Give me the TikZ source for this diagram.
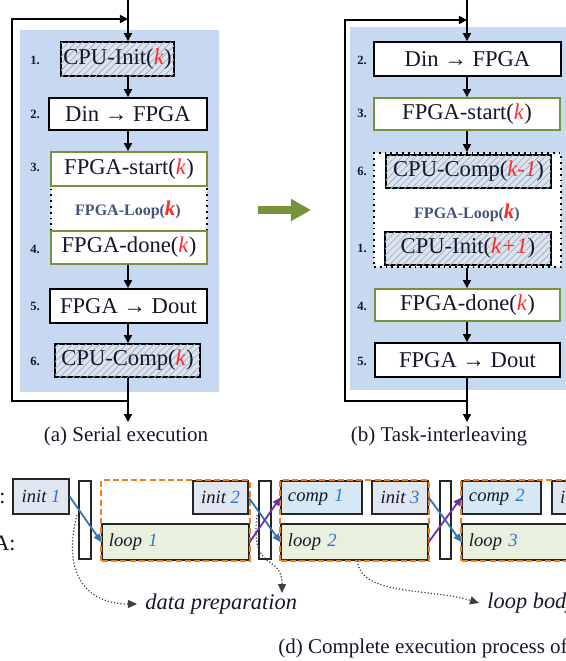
\documentclass[tikz,border=0pt]{standalone}
\usepackage{fontspec}
\setmainfont{Liberation Serif}
\usepackage{tikz}
\usetikzlibrary{
	arrows.meta, positioning, calc, patterns.meta
}
\definecolor{panelblue}  {RGB}{198, 217, 241}
\definecolor{stepgreen}  {RGB}{118, 146,  60}
\definecolor{hatchfill}  {RGB}{220, 228, 238}
\definecolor{hatchline}  {RGB}{160, 178, 204}
\definecolor{kred}       {RGB}{250,  45,  45}
\definecolor{loopgray}   {RGB}{ 68,  84, 120}
\definecolor{inkdark}    {RGB}{ 22,  22,  42}
\definecolor{initfill}   {RGB}{224, 231, 241}
\definecolor{compfill}   {RGB}{214, 232, 245}
\definecolor{loopfill}   {RGB}{234, 240, 222}
\definecolor{grporange}  {RGB}{240, 128,  30}
\definecolor{xferblue}   {RGB}{ 46, 117, 190}
\definecolor{xferpurple} {RGB}{112,  48, 170}
\definecolor{numblue}    {RGB}{ 46, 117, 205}

\newcommand{\kk}[1]{\textcolor{kred}{\textit{#1}}}
\newcommand{\kbig}[1]{\textcolor{kred}{\fontsize{10.5}{12}\selectfont\textbf{\textit{#1}}}}
\newcommand{\nb}[1]{\textcolor{numblue}{#1}}
\newcommand{\toarr}{~\textbf{→}~}

\tikzset{
	stepbox/.style={draw=black, line width=0.9pt, fill=white, inner sep=0pt,
		text=inkdark, font=\fontsize{11.3}{13}\selectfont},
	greenbox/.style={stepbox, draw=stepgreen},
	hatchbox/.style={stepbox, fill=hatchfill,
		postaction={pattern={Lines[angle=45,distance=2.4pt,line width=0.4pt]}, pattern color=hatchline}},
	loopframe/.style={draw=black, dotted, line width=0.9pt, fill=white, inner sep=0pt},
	looptxt/.style={text=loopgray, font=\fontsize{8}{9}\bfseries\selectfont},
	num/.style={text=inkdark, font=\fontsize{6.3}{7}\bfseries\selectfont},
	flow/.style={-{Triangle[length=4pt,width=4pt]}, line width=0.8pt},
	caption/.style={text=inkdark, inner sep=0pt, font=\fontsize{10.5}{12}\selectfont},
	taskbox/.style={draw=black!85, line width=0.7pt, inner sep=0pt,
		text=inkdark, font=\fontsize{9.3}{11}\itshape\selectfont},
	taskleft/.style={taskbox, align=left, inner xsep=3.5pt},
	barbox/.style={draw=black!85, line width=0.7pt, fill=white, inner sep=0pt,
		minimum width=6pt, minimum height=39pt},
	grp/.style={draw=grporange, line width=1.1pt, dash pattern=on 3pt off 1.6pt},
	xfer/.style={-{Triangle[length=4pt,width=3.6pt]}, line width=0.9pt},
	hint/.style={densely dotted, line width=0.6pt, black!75, -{Triangle[length=4.5pt,width=4pt]}},
	note/.style={text=inkdark, inner sep=4pt, font=\fontsize{11.2}{13}\itshape\selectfont}
}

\begin{document}
\begin{tikzpicture}[x=0.5pt,y=-0.5pt]
	\useasboundingbox (0,0) rectangle (566,661);

	% (a) serial execution
	\fill[panelblue] (20,30) rectangle (219,392);
	\node[loopframe, minimum width=78pt, minimum height=22.5pt] (loopA) at (129,208.5) {};
	\node[looptxt] (loopAtxt) at (128,210) {FPGA-Loop(\kbig{k})};
	\node[hatchbox, minimum width=56.5pt, minimum height=17pt] (initA) at (117.5,59) {CPU-Init(\kk{k})};
	\node[stepbox, minimum width=79pt, minimum height=16pt] (dinA) at (128,114) {Din\toarr FPGA};
	\node[greenbox, minimum width=78pt, minimum height=17pt] (startA) at (129,169) {FPGA-start(\kk{k})};
	\node[greenbox, minimum width=78pt, minimum height=16.5pt] (doneA) at (129,247.5) {FPGA-done(\kk{k})};
	\node[stepbox, minimum width=78.5pt, minimum height=17pt] (doutA) at (128.5,306) {FPGA\toarr Dout};
	\node[hatchbox, minimum width=72.5pt, minimum height=16.5pt] (compA) at (127.5,360.5) {CPU-Comp(\kk{k})};
	\node[num] (n1A) at (35,60) {1.};
	\node[num] (n2A) at (35,114) {2.};
	\node[num] (n3A) at (35,167) {3.};
	\node[num] (n4A) at (35,249) {4.};
	\node[num] (n5A) at (35,306) {5.};
	\node[num] (n6A) at (35,361) {6.};
	\coordinate (topA) at (128,0);
	\coordinate (joinA) at (128,19);
	\coordinate (backA) at (128,401);
	\coordinate (outA) at (128,422);
	\draw[flow] (topA) -- (initA.north -| topA);
	\draw[flow] (initA.south -| topA) -- (dinA.north -| topA);
	\draw[flow] (dinA.south -| topA) -- (startA.north -| topA);
	\draw[flow] (doneA.south -| topA) -- (doutA.north -| topA);
	\draw[flow] (doutA.south -| topA) -- (compA.north -| topA);
	\draw[flow] (compA.south -| topA) -- (outA);
	\draw[flow] (backA) -- ++(-116,0) |- (joinA);
	\node[caption] (capA) at (126,436) {(a) Serial execution};

	% arrow between (a) and (b)
	\coordinate (arrL) at (258,210);
	\coordinate (arrR) at (311,210);
	\draw[stepgreen, line width=4pt, -{Triangle[length=10pt,width=10.5pt]}] (arrL) -- (arrR);

	% (b) task-interleaving
	\fill[panelblue] (350,27) rectangle (570,390);
	\node[loopframe, minimum width=93.5pt, minimum height=57pt] (loopB) at (467.5,210) {};
	\node[hatchbox, minimum width=82.5pt, minimum height=16.5pt] (compB) at (468.5,171.5) {CPU-Comp(\kk{k-1})};
	\node[looptxt] (loopBtxt) at (467,213) {FPGA-Loop(\kbig{k})};
	\node[hatchbox, minimum width=83pt, minimum height=16.5pt] (initB) at (468,248.5) {CPU-Init(\kk{k+1})};
	\node[stepbox, minimum width=93.5pt, minimum height=17pt] (dinB) at (467.5,59) {Din\toarr FPGA};
	\node[greenbox, minimum width=93pt, minimum height=16pt] (startB) at (467,114) {FPGA-start(\kk{k})};
	\node[greenbox, minimum width=92.5pt, minimum height=16pt] (doneB) at (467.5,305) {FPGA-done(\kk{k})};
	\node[stepbox, minimum width=92.5pt, minimum height=17pt] (doutB) at (467.5,360) {FPGA\toarr Dout};
	\node[num] (n2B) at (362,60) {2.};
	\node[num] (n3B) at (362,113) {3.};
	\node[num] (n6B) at (362,171) {6.};
	\node[num] (n1B) at (362,248) {1.};
	\node[num] (n4B) at (362,306) {4.};
	\node[num] (n5B) at (362,361) {5.};
	\coordinate (topB) at (467,0);
	\coordinate (joinB) at (467,20);
	\coordinate (backB) at (467,401);
	\coordinate (outB) at (467,422);
	\draw[flow] (topB) -- (dinB.north -| topB);
	\draw[flow] (dinB.south -| topB) -- (startB.north -| topB);
	\draw[flow] (startB.south -| topB) -- (loopB.north -| topB);
	\draw[flow] (loopB.south -| topB) -- (doneB.north -| topB);
	\draw[flow] (doneB.south -| topB) -- (doutB.north -| topB);
	\draw[flow] (doutB.south -| topB) -- (outB);
	\draw[flow] (backB) -- ++(-122,0) |- (joinB);
	\node[caption] (capB) at (439,436) {(b) Task-interleaving};

	% (d) complete execution process
	\node[caption, anchor=east, font=\fontsize{11}{13}\selectfont] (cpulbl) at (6,496) {CPU:};
	\node[caption, anchor=east, font=\fontsize{11}{13}\selectfont] (fpgalbl) at (16,543) {FPGA:};
	\node[taskbox, fill=initfill, minimum width=28pt, minimum height=17.5pt] (init1) at (41,496.5) {init \nb{1}};
	\node[barbox] (bar1) at (85,520) {};
	\node[taskbox, fill=initfill, minimum width=27.5pt, minimum height=16.5pt] (init2) at (220.5,497.5) {init \nb{2}};
	\node[taskleft, fill=loopfill, text width=66.5pt, minimum height=18pt] (loop1) at (175.5,542) {loop \nb{1}};
	\node[barbox] (bar2) at (265,520) {};
	\node[taskleft, fill=compfill, text width=33.5pt, minimum height=16.5pt] (comp1) at (321.5,497.5) {comp \nb{1}};
	\node[taskbox, fill=initfill, minimum width=28pt, minimum height=16.5pt] (init3) at (400,497.5) {init \nb{3}};
	\node[taskleft, fill=loopfill, text width=66.5pt, minimum height=18pt] (loop2) at (354.5,542) {loop \nb{2}};
	\node[barbox, minimum width=5.5pt] (bar3) at (445.5,520) {};
	\node[taskleft, fill=compfill, text width=32.5pt, minimum height=16.5pt] (comp2) at (501.5,497.5) {comp \nb{2}};
	\node[taskbox, fill=initfill, minimum width=27.5pt, minimum height=16.5pt] (init4) at (579.5,497.5) {init \nb{4}};
	\node[taskleft, fill=loopfill, text width=66.5pt, minimum height=18pt] (loop3) at (535.5,542) {loop \nb{3}};
	\draw[grp] (loop1.south west) rectangle (loop1.east |- init2.north);
	\draw[grp] (loop2.south west) rectangle (loop2.east |- comp1.north);
	\draw[grp] (loop3.south west) rectangle (loop3.east |- comp2.north);
	\draw[xfer, xferblue] (init1.east) -- (loop1.west);
	\draw[xfer, xferblue] (init2.east) -- (loop2.west);
	\draw[xfer, xferblue] (init3.east) -- (loop3.west);
	\draw[xfer, xferpurple] (loop1.east) -- (comp1.west);
	\draw[xfer, xferpurple] (loop2.east) -- (comp2.west);
	\node[note, anchor=west] (dataprep) at (137,604) {data preparation};
	\node[note, anchor=west] (loopbody) at (479,603) {loop body};
	\coordinate (prep1) at (77,515);
	\coordinate (prep2) at (257,515);
	\coordinate (prep2end) at (282,593);
	\draw[hint] (prep1) .. controls (62,572) and (85,604) .. (dataprep.west);
	\draw[hint] (prep2) .. controls (250,575) and (282,552) .. (prep2end);
	\draw[hint] ($(loop2.south west)!0.52!(loop2.south east)$) .. controls (360,596) and (430,588) .. (loopbody.west);
	\node[caption, anchor=west] (capD) at (278,648) {(d) Complete execution process of};
\end{tikzpicture}
\end{document}
